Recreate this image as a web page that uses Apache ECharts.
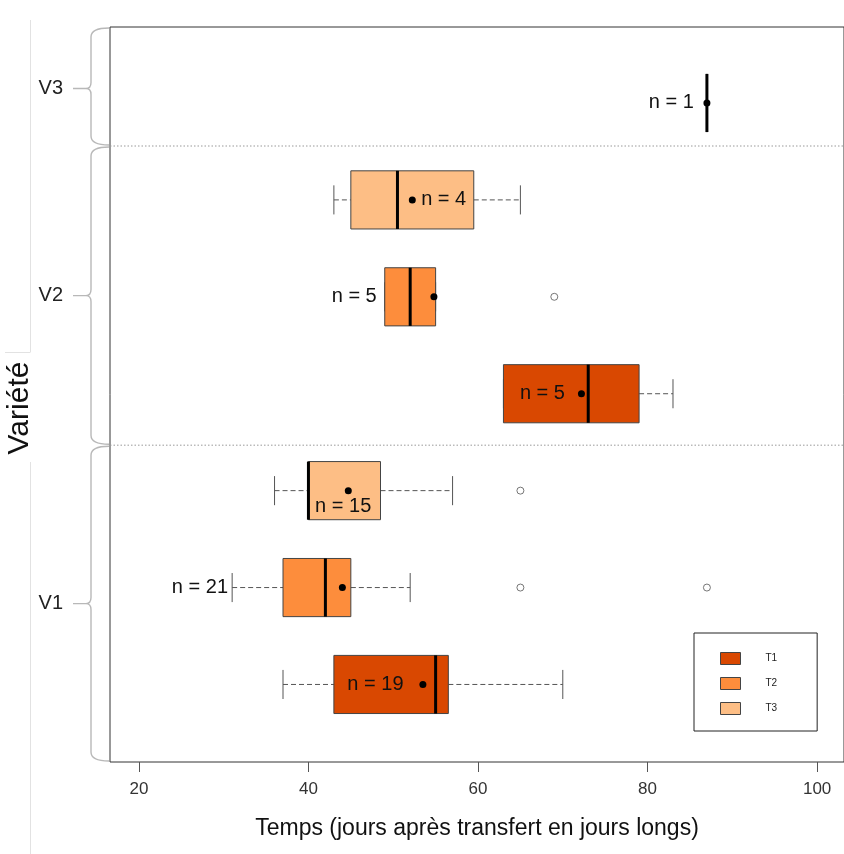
<!DOCTYPE html>
<html>
<head>
<meta charset="utf-8">
<script src="https://cdn.jsdelivr.net/npm/echarts@6/dist/echarts.min.js"></script>
<style>
  html, body { margin: 0; padding: 0; background: #fff; }
  #chart { width: 844px; height: 854px; }
</style>
</head>
<body>
<div id="chart"></div>
<script>
// one box per row, from bottom to top
const boxVariety = ['V1', 'V1', 'V1', 'V2', 'V2', 'V2', 'V3']
const boxTreatment = ['T1', 'T2', 'T3', 'T1', 'T2', 'T3', 'T1']
const whiskerLow = [37, 31, 36, 63, 49, 43, 87]
const quart1 = [43, 37, 40, 63, 49, 45, 87]
const medians = [55, 42, 40, 73, 52, 50.5, 87]
const quart3 = [56.5, 45, 48.5, 79, 55, 59.5, 87]
const whiskerHigh = [70, 52, 57, 83, 55, 65, 87]
const means = [53.5, 44, 44.7, 72.2, 54.8, 52.25, 87]
const counts = [19, 21, 15, 5, 5, 4, 1]
const outliers = [[], [65, 87], [65], [], [69], [], []]

const varieties = ['V1', 'V2', 'V3']
const treatments = ['T1', 'T2', 'T3']
const xTicks = [20, 40, 60, 80, 100]

// where the "n = .." texts sit (x in days, y offset in rows)
const countLabelX = [47.9, 27.2, 44.1, 67.6, 45.4, 55.95, 82.8]
const countLabelDy = [0, 0, -0.165, 0, 0, 0, 0]
// limits of each variety band on the row scale
const groupBounds = [0.2, 3.469, 6.556, 7.784]

const colors = { T1: '#D94801', T2: '#FD8D3C', T3: '#FDBE85' }
const font = 'Liberation Sans, Arial, sans-serif'

function renderBox (params, api) {
    const row = api.value(0)
    const low = api.coord([api.value(1), row])
    const q1 = api.coord([api.value(2), row])
    const med = api.coord([api.value(3), row])
    const q3 = api.coord([api.value(4), row])
    const high = api.coord([api.value(5), row])
    const mean = api.coord([api.value(6), row])
    const h = api.size([0, 0.3])[1]
    const y = low[1]
    const dash = { stroke: '#555', lineWidth: 1, lineDash: [5, 3] }
    const cap = { stroke: '#555', lineWidth: 1 }
    return {
        type: 'group',
        children: [
            { type: 'line', shape: { x1: low[0], y1: y, x2: q1[0], y2: y }, style: dash },
            { type: 'line', shape: { x1: q3[0], y1: y, x2: high[0], y2: y }, style: dash },
            { type: 'line', shape: { x1: low[0], y1: y - h / 2, x2: low[0], y2: y + h / 2 }, style: cap },
            { type: 'line', shape: { x1: high[0], y1: y - h / 2, x2: high[0], y2: y + h / 2 }, style: cap },
            {
                type: 'rect',
                shape: { x: q1[0], y: y - h, width: q3[0] - q1[0], height: 2 * h },
                style: { fill: api.visual('color'), stroke: '#444', lineWidth: 1 }
            },
            { type: 'line', shape: { x1: med[0], y1: y - h, x2: med[0], y2: y + h }, style: { stroke: '#000', lineWidth: 3 } },
            { type: 'circle', shape: { cx: mean[0], cy: y, r: 3.5 }, style: { fill: '#000' } }
        ]
    }
}

function renderCount (params, api) {
    const p = api.coord([api.value(0), api.value(1)])
    return {
        type: 'text',
        x: p[0],
        y: p[1],
        style: {
            text: 'n = ' + api.value(2),
            font: '20px ' + font,
            fill: '#111',
            align: 'center',
            verticalAlign: 'middle'
        }
    }
}

function renderBrace (params, api) {
    const cs = params.coordSys
    const gx = cs.x
    const top = api.coord([0, api.value(1)])[1]
    const bot = api.coord([0, api.value(0)])[1]
    const mid = (top + bot) / 2 + (params.dataIndex === 2 ? 2 : 0)
    const x0 = gx - 19
    const xe = gx - 1
    const xt = gx - 24
    const path = 'M' + xe + ',' + (top + 1) + ' Q' + x0 + ',' + (top + 1) + ' ' + x0 + ',' + (top + 10) +
        ' L' + x0 + ',' + (mid - 6) + ' Q' + x0 + ',' + mid + ' ' + xt + ',' + mid +
        ' Q' + x0 + ',' + mid + ' ' + x0 + ',' + (mid + 6) +
        ' L' + x0 + ',' + (bot - 10) + ' Q' + x0 + ',' + (bot - 1) + ' ' + xe + ',' + (bot - 1) +
        ' M' + xt + ',' + mid + ' L' + (gx - 37) + ',' + mid
    const children = [
        { type: 'path', shape: { pathData: path }, style: { fill: null, stroke: '#b8b8b8', lineWidth: 1.4 } },
        {
            type: 'text', x: gx - 47, y: mid,
            style: { text: varieties[params.dataIndex], font: '20px ' + font, fill: '#222', align: 'right', verticalAlign: 'middle' }
        }
    ]
    if (params.dataIndex < varieties.length - 1) {
        children.push({
            type: 'line',
            shape: { x1: gx, y1: top, x2: cs.x + cs.width, y2: top },
            style: { stroke: '#999', lineWidth: 1, lineDash: [1.5, 2] }
        })
    }
    return { type: 'group', children: children }
}

const boxSeries = treatments.map(t => ({
    name: t,
    type: 'custom',
    renderItem: renderBox,
    itemStyle: { color: colors[t], borderColor: '#444', borderWidth: 1 },
    encode: { x: [1, 2, 3, 4, 5, 6], y: 0 },
    data: boxTreatment.map((bt, i) => bt === t
        ? [i + 1, whiskerLow[i], quart1[i], medians[i], quart3[i], whiskerHigh[i], means[i]]
        : null).filter(d => d)
}))

const outlierData = []
outliers.forEach((list, i) => list.forEach(v => outlierData.push([v, i + 1])))

const chart = echarts.init(document.getElementById('chart'))
chart.setOption({
    animation: false,
    backgroundColor: '#fff',
    textStyle: { fontFamily: font },
    grid: {
        left: 110, top: 27, width: 737, height: 735,
        show: true, borderColor: '#333', borderWidth: 1
    },
    xAxis: {
        type: 'value',
        min: 16.593,
        max: 103.17,
        splitLine: { show: false },
        axisLine: { show: false },
        axisTick: { show: true, customValues: xTicks, length: 10, lineStyle: { color: '#555' } },
        axisLabel: { customValues: xTicks, color: '#333', fontSize: 17, margin: 19 },
        name: 'Temps (jours après transfert en jours longs)',
        nameLocation: 'middle',
        nameGap: 55,
        nameTextStyle: { fontSize: 23, color: '#111' }
    },
    yAxis: {
        type: 'value',
        min: groupBounds[0],
        max: groupBounds[groupBounds.length - 1],
        show: false
    },
    legend: {
        data: treatments,
        orient: 'vertical',
        left: 694,
        top: 633,
        icon: 'rect',
        itemWidth: 20,
        itemHeight: 12,
        itemGap: 12,
        padding: [19, 40, 16, 26],
        borderColor: '#222',
        borderWidth: 1,
        selectedMode: false,
        itemStyle: { borderColor: '#444', borderWidth: 1 },
        textStyle: { fontSize: 10, color: '#222', padding: [0, 0, 0, 20] }
    },
    graphic: [
        {
            type: 'text', x: 20, y: 408, rotation: Math.PI / 2,
            style: { text: 'Variété', font: '30px ' + font, fill: '#111', align: 'center', verticalAlign: 'middle' }
        },
        { type: 'line', shape: { x1: 30.5, y1: 20, x2: 30.5, y2: 352 }, style: { stroke: '#e2e2e2' } },
        { type: 'line', shape: { x1: 5, y1: 352.5, x2: 30.5, y2: 352.5 }, style: { stroke: '#e2e2e2' } },
        { type: 'line', shape: { x1: 30.5, y1: 462, x2: 30.5, y2: 854 }, style: { stroke: '#e2e2e2' } }
    ],
    series: [
        ...boxSeries,
        {
            name: 'outliers',
            type: 'scatter',
            symbol: 'circle',
            symbolSize: 7,
            itemStyle: { color: '#fff', borderColor: '#555', borderWidth: 1 },
            data: outlierData
        },
        {
            name: 'counts',
            type: 'custom',
            renderItem: renderCount,
            encode: { x: 0, y: 1 },
            data: counts.map((n, i) => [countLabelX[i], i + 1 + countLabelDy[i], n])
        },
        {
            name: 'varieties',
            type: 'custom',
            renderItem: renderBrace,
            clip: false,
            encode: { y: [0, 1] },
            data: varieties.map((v, i) => [groupBounds[i], groupBounds[i + 1]])
        }
    ]
})
</script>
</body>
</html>
